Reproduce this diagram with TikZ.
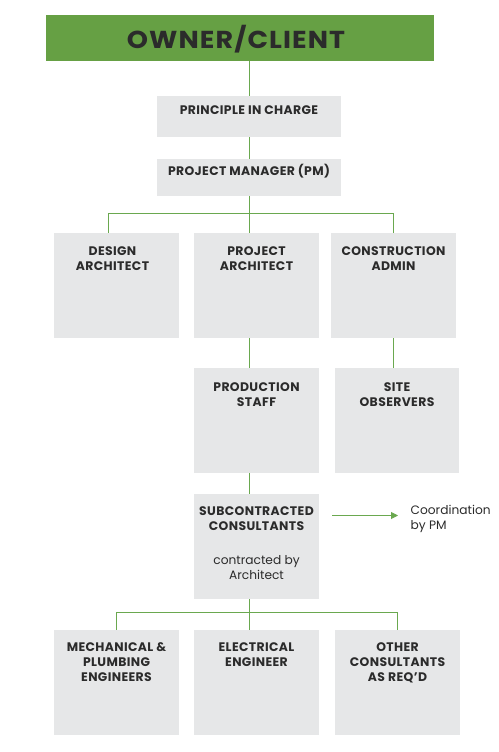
\documentclass[tikz,border=0pt]{standalone}
\usepackage{fontspec}
\usepackage{graphicx}
\setmainfont{Poppins}
\usetikzlibrary{arrows.meta}
\definecolor{hdrgreen}{HTML}{66A044}
\definecolor{linegreen}{HTML}{6AA84F}
\definecolor{boxgray}{HTML}{E6E7E8}
\definecolor{txtdark}{HTML}{2B2B2B}
\tikzset{
  box/.style={fill=boxgray, draw=none, inner sep=0pt, minimum width=#1},
  box/.default=125pt,
  hdr/.style={fill=hdrgreen, draw=none, inner sep=0pt, minimum width=388pt, minimum height=46pt},
  lbl/.style={anchor=north, inner sep=0pt, align=center, text=txtdark,
    font=\fontsize{12.4}{14.8}\selectfont\bfseries\addfontfeature{LetterSpace=3}},
  note/.style={anchor=north, inner sep=0pt, align=center, text=txtdark,
    font=\fontsize{12.2}{14.3}\selectfont},
  conn/.style={draw=linegreen, line width=0.9pt},
}
\begin{document}
\begin{tikzpicture}[x=1pt,y=-1pt]
\useasboundingbox (0,0) rectangle (498,752);
% header
\node[hdr] (owner) at (240,38) {};
\node[anchor=center, inner sep=0pt, text=txtdark, font=\fontsize{24.5}{27}\selectfont\bfseries\addfontfeature{LetterSpace=4}] (ownert) at (236,39) {\scalebox{1.1}[1]{OWNER/CLIENT}};
% top boxes
\node[box=184pt, minimum height=41pt] (pic) at (249,116.5) {};
\node[lbl] (pict) at (249,105.2) {PRINCIPLE IN CHARGE};
\node[box=184pt, minimum height=37pt] (pm) at (249,177.5) {};
\node[lbl] (pmt) at (249,164) {PROJECT MANAGER (PM)};
% row 1
\node[box, minimum height=105pt] (da) at (116.5,285.5) {};
\node[lbl] (dat) at (112.5,246.5) {DESIGN\\ARCHITECT};
\node[box, minimum height=105pt] (pa) at (256.5,285.5) {};
\node[lbl] (pat) at (256.5,246.5) {PROJECT\\ARCHITECT};
\node[box, minimum height=105pt] (ca) at (393.5,285.5) {};
\node[lbl] (cat) at (393.5,246.5) {CONSTRUCTION\\ADMIN};
% row 2
\node[box, minimum height=105pt] (ps) at (256.5,420.5) {};
\node[lbl] (pst) at (256.5,382.5) {PRODUCTION\\STAFF};
\node[box=124pt, minimum height=105pt] (so) at (397,420.5) {};
\node[lbl] (sot) at (397,382.5) {SITE\\OBSERVERS};
% subcontracted
\node[box, minimum height=105pt] (sc) at (256.5,546.5) {};
\node[lbl] (sct) at (256.5,506.5) {SUBCONTRACTED\\CONSULTANTS};
\node[note] (scn) at (256.5,555.5) {contracted by\\Architect};
\coordinate (arrS) at (332,515.5);
\node[note, anchor=north west, align=left] (coord) at (410.5,505.5) {Coordination\\by PM};
% bottom row
\node[box, minimum height=105pt] (me) at (116.5,682.5) {};
\node[lbl] (met) at (116.5,642.5) {MECHANICAL \&\\PLUMBING\\ENGINEERS};
\node[box, minimum height=105pt] (ee) at (256.5,682.5) {};
\node[lbl] (eet) at (256.5,642.5) {ELECTRICAL\\ENGINEER};
\node[box, minimum height=105pt] (oc) at (397.5,682.5) {};
\node[lbl] (oct) at (397.5,642.5) {OTHER\\CONSULTANTS\\AS REQ'D};
% connectors
\draw[conn] (owner.south -| 249,0) -- (pic.north);
\draw[conn] (pic.south) -- (pm.north);
\draw[conn] (pm.south) -- (249,213) -| (108,233);
\draw[conn] (249,213) -| (393,233);
\draw[conn] (249,213) -- (249,233);
\draw[conn] (249,338) -- (249,368);
\draw[conn] (393,338) -- (393,368);
\draw[conn] (249,473) -- (249,494);
\draw[conn] (249,599) -- (249,612) -| (116,630);
\draw[conn] (249,612) -| (397,630);
\draw[conn] (249,612) -- (249,630);
\draw[conn, -{Triangle[length=7pt,width=7pt]}, fill=linegreen] (arrS) -- (398,515.5);
\end{tikzpicture}
\end{document}
